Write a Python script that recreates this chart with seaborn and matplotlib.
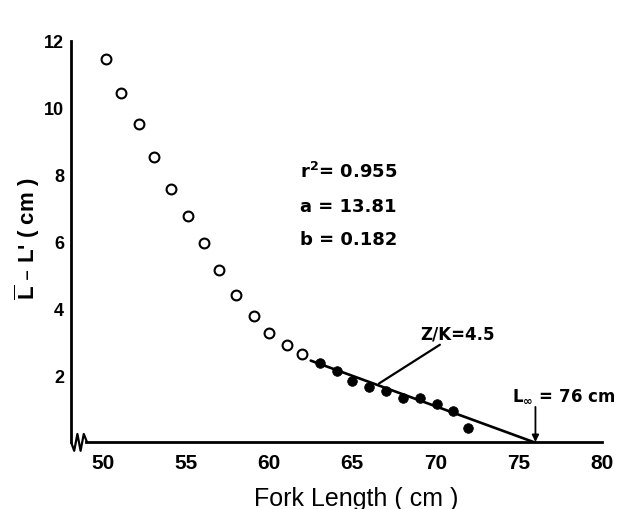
import numpy as np
import pandas as pd
import seaborn as sns
import matplotlib
matplotlib.use("Agg")
import matplotlib.pyplot as plt

sns.set_theme(style="white")
plt.rcParams['font.family'] = ['Liberation Sans', 'DejaVu Sans']
plt.rcParams['mathtext.default'] = 'regular'
for key in ['text.color', 'axes.labelcolor', 'xtick.color', 'ytick.color']:
    plt.rcParams[key] = 'black'

# open circles (not used in the fit)
open_x = [50.2, 51.1, 52.2, 53.1, 54.1, 55.1, 56.1, 57.0, 58.0, 59.1, 60.0, 61.1, 62.0]
open_y = [11.46, 10.43, 9.51, 8.54, 7.56, 6.76, 5.94, 5.16, 4.41, 3.76, 3.26, 2.91, 2.63]

# filled circles (used in the fit)
fit_x = [63.05, 64.05, 65.0, 66.0, 67.0, 68.06, 69.06, 70.07, 71.07, 71.97]
fit_y = [2.36, 2.11, 1.83, 1.64, 1.54, 1.33, 1.31, 1.14, 0.94, 0.41]

# regression  L - L' = a - b * L
r2 = 0.955
a = 13.81
b = 0.182
line_start = 62.5
L_inf = 76
zk = 4.5

x_ticks = [50, 55, 60, 65, 70, 75, 80]
y_ticks = [2, 4, 6, 8, 10, 12]

open_df = pd.DataFrame({"L": open_x, "d": open_y})
fit_df = pd.DataFrame({"L": fit_x, "d": fit_y})
line_x = np.array([line_start, L_inf])
line_df = pd.DataFrame({"L": line_x, "d": a - b * line_x})

fig = plt.figure(figsize=(6.41, 5.10), dpi=100)
ax = fig.add_axes([0.1108, 0.1314, 0.8284, 0.7863])

sns.lineplot(data=line_df, x="L", y="d", color="black", linewidth=1.9, ax=ax)
sns.scatterplot(data=open_df, x="L", y="d", marker="o", s=50,
                facecolor="white", edgecolor="black", linewidth=1.5, ax=ax, zorder=3)
sns.scatterplot(data=fit_df, x="L", y="d", marker="o", s=48,
                color="black", edgecolor="black", ax=ax, zorder=3)

ax.set_xlim(48.1, 80)
ax.set_ylim(0, 12)

for side in ["top", "right"]:
    ax.spines[side].set_visible(False)
for side in ["left", "bottom"]:
    ax.spines[side].set_linewidth(2.0)
    ax.spines[side].set_color("black")
ax.spines["bottom"].set_bounds(49.0, 80)

ax.set_xticks(x_ticks)
ax.set_yticks(y_ticks)
ax.set_yticks(range(1, 12), minor=True)
ax.tick_params(axis="both", which="both", direction="in", color="black",
               width=1.8)
ax.tick_params(axis="x", which="major", length=7, pad=8, labelsize=15)
ax.tick_params(axis="y", which="both", length=8, pad=5, labelsize=13)
for lbl in ax.get_xticklabels() + ax.get_yticklabels():
    lbl.set_fontweight("bold")

# axis break zigzag at the origin
zx = [0.0, 0.006, 0.012, 0.018, 0.024, 0.030]
zy = [0.0, -0.022, 0.020, -0.022, 0.020, 0.0]
ax.plot(zx, zy, color="black", linewidth=1.6, transform=ax.transAxes, clip_on=False)

ax.set_xlabel("Fork Length ( cm )", fontsize=18)
ax.set_ylabel(r"$\overline{L}$ – L' ( cm )", fontsize=16, fontweight="bold")
ax.xaxis.set_label_coords(0.537, -0.11)
ax.yaxis.set_label_coords(-0.055, 0.509)

# fit statistics
stat_font = dict(fontsize=13, fontweight="bold", family="DejaVu Sans", va="baseline")
ax.text(61.85, 7.92, rf"r$^2$= {r2}", **stat_font)
ax.text(61.85, 6.90, f"a = {a}", **stat_font)
ax.text(61.85, 5.91, f"b = {b}", **stat_font)

# Z/K annotation
ax.text(69.06, 3.25, f"Z/K={zk}", fontsize=12, fontweight="bold",
        family="DejaVu Sans", ha="left", va="center")
ax.annotate("", xy=(66.6, 1.75), xytext=(70.26, 2.91),
            arrowprops=dict(arrowstyle="-", color="black", lw=1.6,
                            shrinkA=0, shrinkB=0))

# L infinity annotation
ax.annotate("", xy=(L_inf, 0), xytext=(L_inf, 1.05),
            arrowprops=dict(arrowstyle="-|>", color="black", lw=1.3,
                            mutation_scale=10, shrinkA=0, shrinkB=0))
ax.text(74.6, 1.41, rf"L$_\infty$ = {L_inf} cm", fontsize=12, fontweight="bold",
        family="DejaVu Sans", ha="left", va="center")

fig.savefig("out.png", dpi=100)
